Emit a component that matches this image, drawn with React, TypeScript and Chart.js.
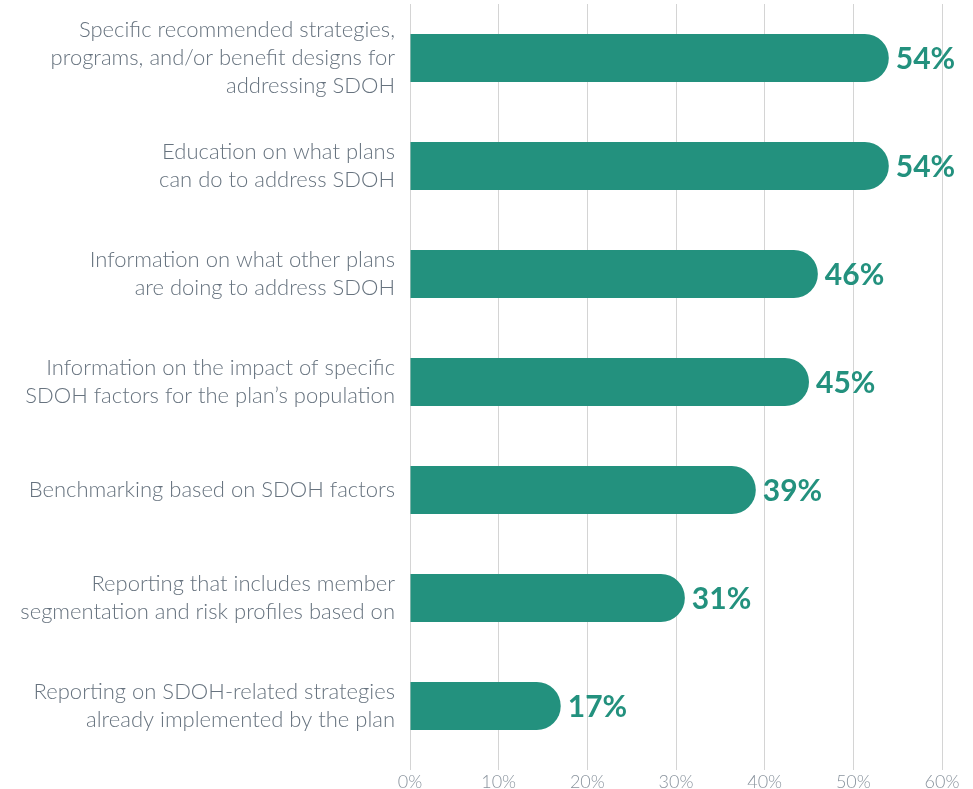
import React, { useEffect, useRef } from "react";
import { Chart, registerables } from "chart.js";

Chart.register(...registerables);

const categories: string[][] = [
  ["Specific recommended strategies,", "programs, and/or benefit designs for", "addressing SDOH"],
  ["Education on what plans", "can do to address SDOH"],
  ["Information on what other plans", "are doing to address SDOH"],
  ["Information on the impact of specific", "SDOH factors for the plan\u2019s population"],
  ["Benchmarking based on SDOH factors"],
  ["Reporting that includes member", "segmentation and risk profiles based on"],
  ["Reporting on SDOH-related strategies", "already implemented by the plan"],
];
const values: number[] = [54, 54, 46, 45, 39, 31, 17];
const xTicks: number[] = [0, 10, 20, 30, 40, 50, 60];

const TEAL = "#23917e";

const valueLabels = {
  id: "valueLabels",
  afterDatasetsDraw(chart: any) {
    const ctx = chart.ctx;
    const meta = chart.getDatasetMeta(0);
    ctx.save();
    ctx.fillStyle = TEAL;
    ctx.font = "bold 30px Lato";
    ctx.textAlign = "left";
    ctx.textBaseline = "middle";
    meta.data.forEach((bar: any, i: number) => {
      ctx.fillText(values[i] + "%", bar.x + 7, bar.y + 1);
    });
    ctx.restore();
  },
};

export default function App() {
  const ref = useRef<HTMLCanvasElement>(null);
  useEffect(() => {
    document.body.style.margin = "0";
    const chart = new Chart(ref.current!, {
      type: "bar",
      data: {
        labels: categories,
        datasets: [
          {
            data: values,
            backgroundColor: TEAL,
            borderRadius: 24,
            borderSkipped: "start",
            barPercentage: 0.444,
            categoryPercentage: 1,
          },
        ],
      },
      options: {
        indexAxis: "y",
        animation: false,
        responsive: false,
        maintainAspectRatio: false,
        layout: { padding: { top: 4, right: 31, left: 0, bottom: 0 } },
        plugins: { legend: { display: false }, tooltip: { enabled: false } },
        scales: {
          x: {
            min: 0,
            max: 60,
            afterBuildTicks: (scale: any) => {
              scale.ticks = xTicks.map((v) => ({ value: v }));
            },
            afterFit: (scale: any) => {
              scale.height = 29;
              scale.paddingLeft = 0;
              scale.paddingRight = 0;
            },
            grid: { color: "#d4d4d4", lineWidth: 1, tickLength: 10, drawTicks: true },
            border: { display: false },
            ticks: {
              padding: 1,
              color: "#8a949e",
              font: { family: "Lato", size: 18, weight: 300 },
              callback: (v: any) => v + "%",
            },
          },
          y: {
            afterFit: (scale: any) => {
              scale.width = 410;
              scale.paddingTop = 0;
              scale.paddingBottom = 0;
            },
            grid: { display: false, drawTicks: false },
            border: { display: false },
            ticks: {
              padding: 15,
              color: "#67737f",
              font: { family: "Lato", size: 22, weight: 300, lineHeight: 1.28 },
            },
          },
        },
      },
      plugins: [valueLabels],
    });
    return () => chart.destroy();
  }, []);
  return (
    <div style={{ width: 973, height: 789 }}>
      <canvas ref={ref} width={973} height={789} style={{ display: "block" }} />
    </div>
  );
}
